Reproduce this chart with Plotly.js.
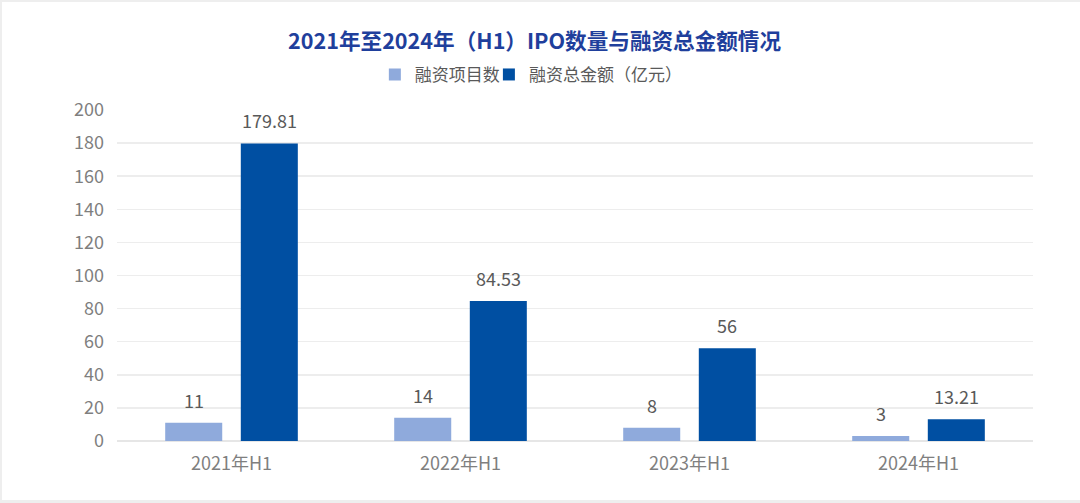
<!DOCTYPE html>
<html>
<head>
<meta charset="utf-8">
<script src="https://cdn.plot.ly/plotly-3.0.1.min.js"></script>
<style>
  html, body { margin: 0; padding: 0; background: #eeeeee; width: 1080px; height: 503px; overflow: hidden; }
  #chart { position: absolute; left: 2px; top: 2px; width: 1078px; height: 498px; background: #ffffff; }
</style>
</head>
<body>
<div id="chart"></div>
<script>
const categories = ['2021年H1', '2022年H1', '2023年H1', '2024年H1'];
const projectCounts = [11, 14, 8, 3];
const financingAmounts = [179.81, 84.53, 56, 13.21];
const seriesNames = ['融资项目数', '融资总金额（亿元）'];
const yTicks = [0, 20, 40, 60, 80, 100, 120, 140, 160, 180, 200];

const FONT = '"Noto Sans CJK SC", "Noto Sans", sans-serif';
const lightBlue = '#8FAADC';
const darkBlue = '#004FA2';

const barW = 0.249;
const offLight = -0.2895;
const offDark = 0.0406;

const traces = [
  {
    type: 'bar', name: seriesNames[0], x: categories, y: projectCounts,
    marker: { color: lightBlue }, width: barW, offset: offLight,
    legend: 'legend', hoverinfo: 'x+y'
  },
  {
    type: 'bar', name: seriesNames[1], x: categories, y: financingAmounts,
    marker: { color: darkBlue }, width: barW, offset: offDark,
    legend: 'legend2', hoverinfo: 'x+y'
  }
];

const annotations = [];
function addLabels(vals, off) {
  vals.forEach((v, i) => {
    annotations.push({
      xref: 'x', yref: 'y', x: i + off + barW / 2, y: v,
      text: String(v), showarrow: false, yanchor: 'bottom', yshift: 8,
      font: { family: FONT, size: 18, color: '#595959' }
    });
  });
}
addLabels(projectCounts, offLight);
addLabels(financingAmounts, offDark);

const legendFont = { family: FONT, size: 17, color: '#595959' };
const layout = {
  width: 1078, height: 498,
  margin: { l: 115, r: 47, t: 108, b: 59 },
  paper_bgcolor: '#ffffff', plot_bgcolor: '#ffffff',
  font: { family: FONT, color: '#7f7f7f' },
  title: {
    text: '<b>2021年至2024年（H1）IPO数量与融资总金额情况</b>',
    font: { family: FONT, size: 21.6, color: '#1F3F9C' },
    x: 0.494, xanchor: 'center', y: 0.92, yanchor: 'middle', yref: 'container'
  },
  showlegend: true,
  legend: {
    orientation: 'h', x: 0.2815, xanchor: 'left', y: 1.106, yanchor: 'middle',
    font: legendFont, itemwidth: 30, bgcolor: 'rgba(0,0,0,0)'
  },
  legend2: {
    orientation: 'h', x: 0.406, xanchor: 'left', y: 1.106, yanchor: 'middle',
    font: legendFont, itemwidth: 30, bgcolor: 'rgba(0,0,0,0)'
  },
  xaxis: {
    type: 'category', showgrid: false, zeroline: false, showline: false, ticks: '',
    tickfont: { family: FONT, size: 18, color: '#7f7f7f' },
    ticklabelstandoff: 10, range: [-0.5, 3.5]
  },
  yaxis: {
    range: [0, 200], tickmode: 'array', tickvals: yTicks, ticktext: yTicks.map(String),
    showgrid: true, gridcolor: '#EDEDED', gridwidth: 1.5, zeroline: true, zerolinecolor: '#E6E6E6', zerolinewidth: 1.5,
    showline: false, ticks: '',
    tickfont: { family: FONT, size: 18, color: '#7f7f7f' },
    ticklabelstandoff: 12
  },
  annotations: annotations,
  barmode: 'group'
};

Plotly.newPlot('chart', traces, layout, { displayModeBar: false, staticPlot: true });
</script>
</body>
</html>
